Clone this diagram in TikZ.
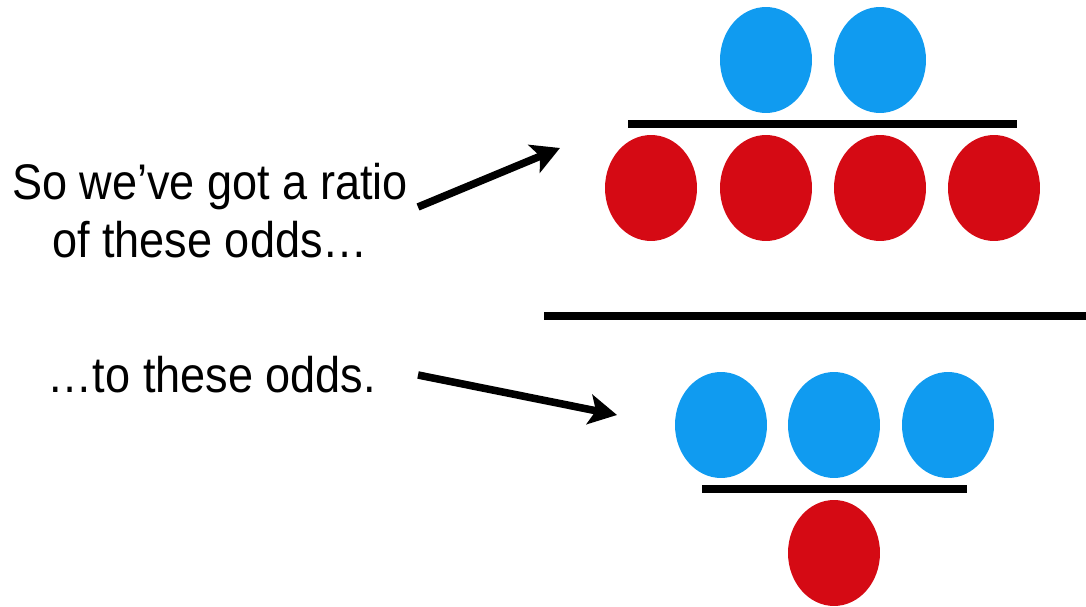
\documentclass[tikz,border=0pt]{standalone}
\usepackage{fontspec}
\setmainfont{Liberation Sans}
\usepackage{tikz}
\usetikzlibrary{arrows.meta,shapes.geometric}
\definecolor{OddsBlue}{HTML}{109BF0}
\definecolor{OddsRed}{HTML}{D50A14}
\newcommand{\squeeze}[1]{\scalebox{.9}[1]{#1}}
\tikzset{
  arr/.style={-{Stealth[length=5.6mm,width=6mm,inset=1.3mm]},line width=4.3pt,draw=black},
  bar/.style={line width=4.6pt,draw=black},
  bluedot/.style={ellipse,fill=OddsBlue,minimum width=1.84cm,minimum height=2.12cm,inner sep=0pt},
  reddot/.style={ellipse,fill=OddsRed,minimum width=1.84cm,minimum height=2.12cm,inner sep=0pt},
  say/.style={inner sep=0pt,align=center,font=\fontsize{28.5}{33}\selectfont}
}
\begin{document}
\begin{tikzpicture}[x=0.02cm,y=-0.02cm]
  \useasboundingbox (0,0) rectangle (1086,607);
  % first odds: 2 over 4
  \node[bluedot] (tb1) at (766,60) {};
  \node[bluedot] (tb2) at (880,60) {};
  \draw[bar] (628,124) -- (1017,124);
  \node[reddot] (tr1) at (651,188) {};
  \node[reddot] (tr2) at (766,188) {};
  \node[reddot] (tr3) at (880,188) {};
  \node[reddot] (tr4) at (994,188) {};
  % main fraction bar
  \draw[bar] (544,316) -- (1086,316);
  % second odds: 3 over 1
  \node[bluedot] (bb1) at (721,425) {};
  \node[bluedot] (bb2) at (834,425) {};
  \node[bluedot] (bb3) at (948,425) {};
  \draw[bar] (702,489) -- (967,489);
  \node[reddot] (br1) at (834,553) {};
  % words and arrows
  \node[say] (q1) at (210,211) {\squeeze{So we’ve got a ratio}\\\squeeze{of these odds…}};
  \node[say] (q2) at (212,375) {\squeeze{…to these odds.}};
  \coordinate (q1out) at (418,207);
  \coordinate (q1in) at (560,148);
  \coordinate (q2out) at (418,375);
  \coordinate (q2in) at (617,415);
  \draw[arr] (q1out)--(q1in);
  \draw[arr] (q2out)--(q2in);
\end{tikzpicture}
\end{document}
